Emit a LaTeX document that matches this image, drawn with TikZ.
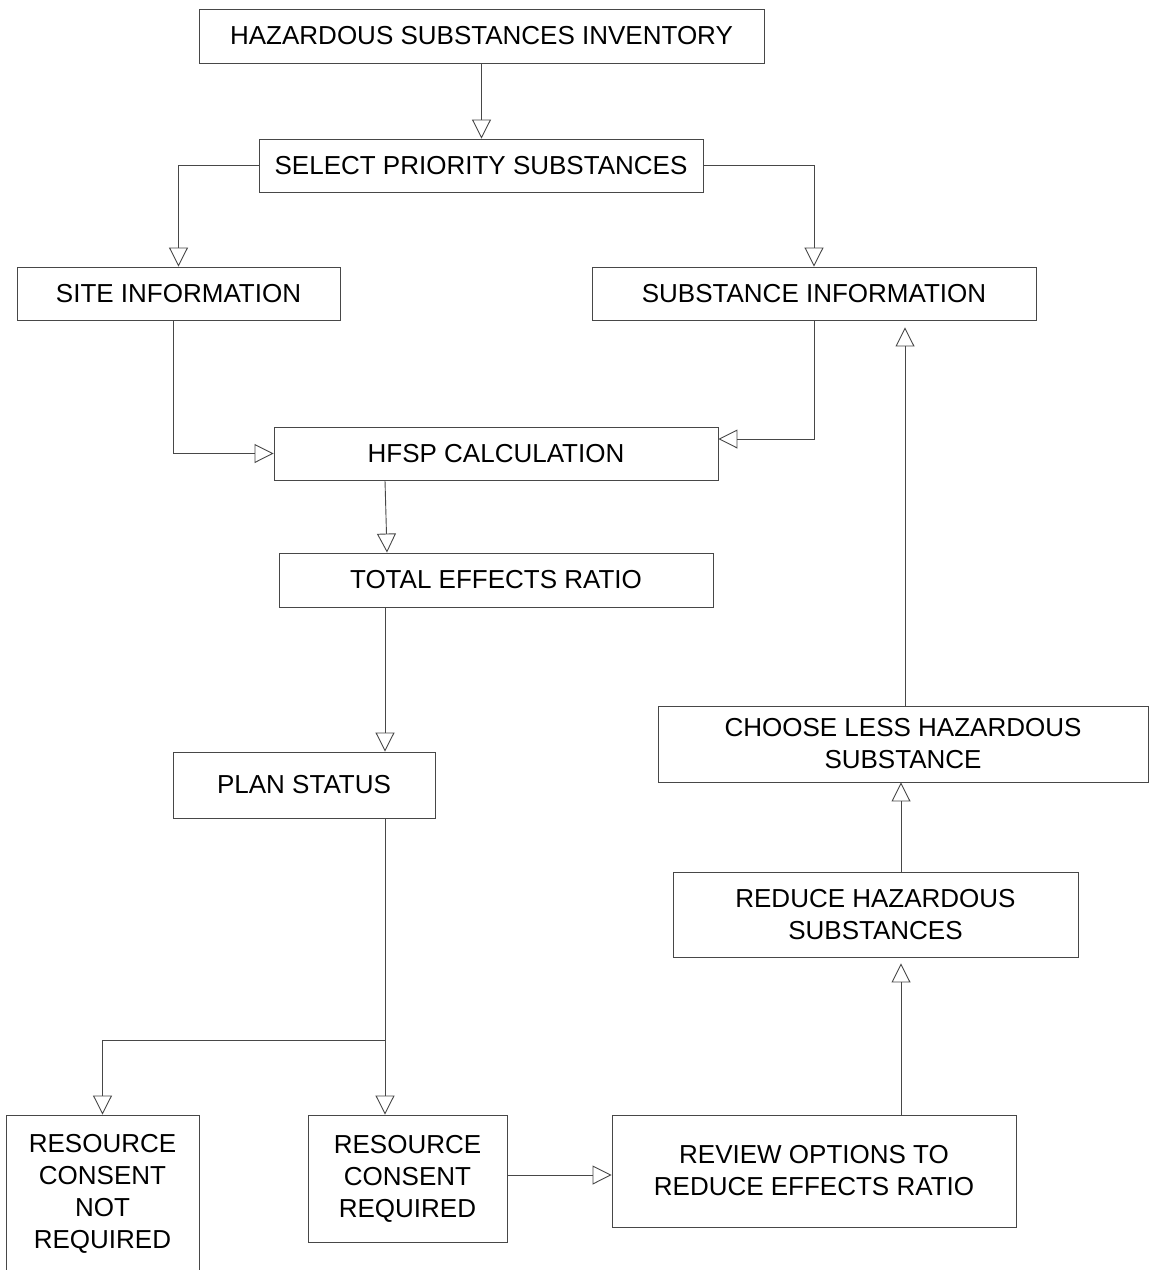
\documentclass[tikz,border=0pt]{standalone}
\usepackage{fontspec}
\setmainfont{Liberation Sans}
\usetikzlibrary{arrows.meta,calc}
\begin{document}
\begin{tikzpicture}[x=1pt,y=-1pt,
  box/.style={draw=black!72,line width=0.9pt,inner sep=0pt,align=center,
    font=\fontsize{26}{32}\selectfont,text=black},
  arr/.style={draw=black!72,line width=0.9pt,
    -{Triangle[open,length=19pt,width=19pt,line width=0.9pt]}}]
\useasboundingbox (0,0) rectangle (1155,1270);
\clip (0,0) rectangle (1155,1270);
\node[box,minimum width=565pt,minimum height=54pt] (hsi) at (481.5,36) {HAZARDOUS SUBSTANCES INVENTORY};
\node[box,minimum width=444pt,minimum height=53pt] (sel) at (481,165.5) {SELECT PRIORITY SUBSTANCES};
\node[box,minimum width=323pt,minimum height=53pt] (site) at (178.5,293.5) {SITE INFORMATION};
\node[box,minimum width=444pt,minimum height=53pt] (sub) at (814,293.5) {SUBSTANCE INFORMATION};
\node[box,minimum width=444pt,minimum height=53pt] (hfsp) at (496,453.5) {HFSP CALCULATION};
\node[box,minimum width=434pt,minimum height=54pt] (ter) at (496,580) {TOTAL EFFECTS RATIO};
\node[box,minimum width=262pt,minimum height=66pt] (plan) at (304,785) {PLAN STATUS};
\node[box,minimum width=490pt,minimum height=76pt] (choose) at (903,744) {CHOOSE LESS HAZARDOUS\\SUBSTANCE};
\node[box,minimum width=405pt,minimum height=85pt] (reduce) at (875.5,914.5) {REDUCE HAZARDOUS\\SUBSTANCES};
\node[box,minimum width=193pt,minimum height=157pt] (notreq) at (102.5,1193.5) {RESOURCE\\CONSENT\\NOT\\REQUIRED};
\node[box,minimum width=199pt,minimum height=127pt] (rcr) at (407.5,1178.5) {RESOURCE\\CONSENT\\REQUIRED};
\node[box,minimum width=404pt,minimum height=112pt] (review) at (814,1171) {REVIEW OPTIONS TO\\REDUCE EFFECTS RATIO};

\draw[arr] (hsi.south) -- (hsi.south |- sel.north);
\draw[arr] (sel.west) -| (site.north);
\draw[arr] (sel.east) -| (sub.north);
\coordinate (s1) at ($(site.south)+(-5.5,0)$);
\draw[arr] (s1) |- (hfsp.west);
\coordinate (h1) at ($(hfsp.east)+(0,-14.5)$);
\draw[arr] (sub.south) |- (h1);
\draw[arr] ($(hfsp.south)+(-111,0)$) -- ($(ter.north)+(-109,0)$);
\coordinate (t1) at ($(ter.south)+(-111,0)$);
\draw[arr] (t1) -- (t1 |- plan.north);
\coordinate (j) at (385,1040);
\draw[draw=black!72,line width=0.9pt] (plan.south -| j) -- (j);
\draw[arr] (j) -- (j |- rcr.north);
\draw[arr] (j) -| (notreq.north);
\draw[arr] ($(rcr.east)+(0,-3.5)$) -- ($(review.west)+(0,4)$);
\coordinate (r1) at ($(review.north)+(87,0)$);
\draw[arr,shorten >=6pt] (r1) -- (r1 |- reduce.south);
\coordinate (r2) at ($(reduce.north)+(25.5,0)$);
\draw[arr] (r2) -- (r2 |- choose.south);
\coordinate (c1) at ($(choose.north)+(2,0)$);
\draw[arr,shorten >=7pt] (c1) -- (c1 |- sub.south);
\end{tikzpicture}
\end{document}
